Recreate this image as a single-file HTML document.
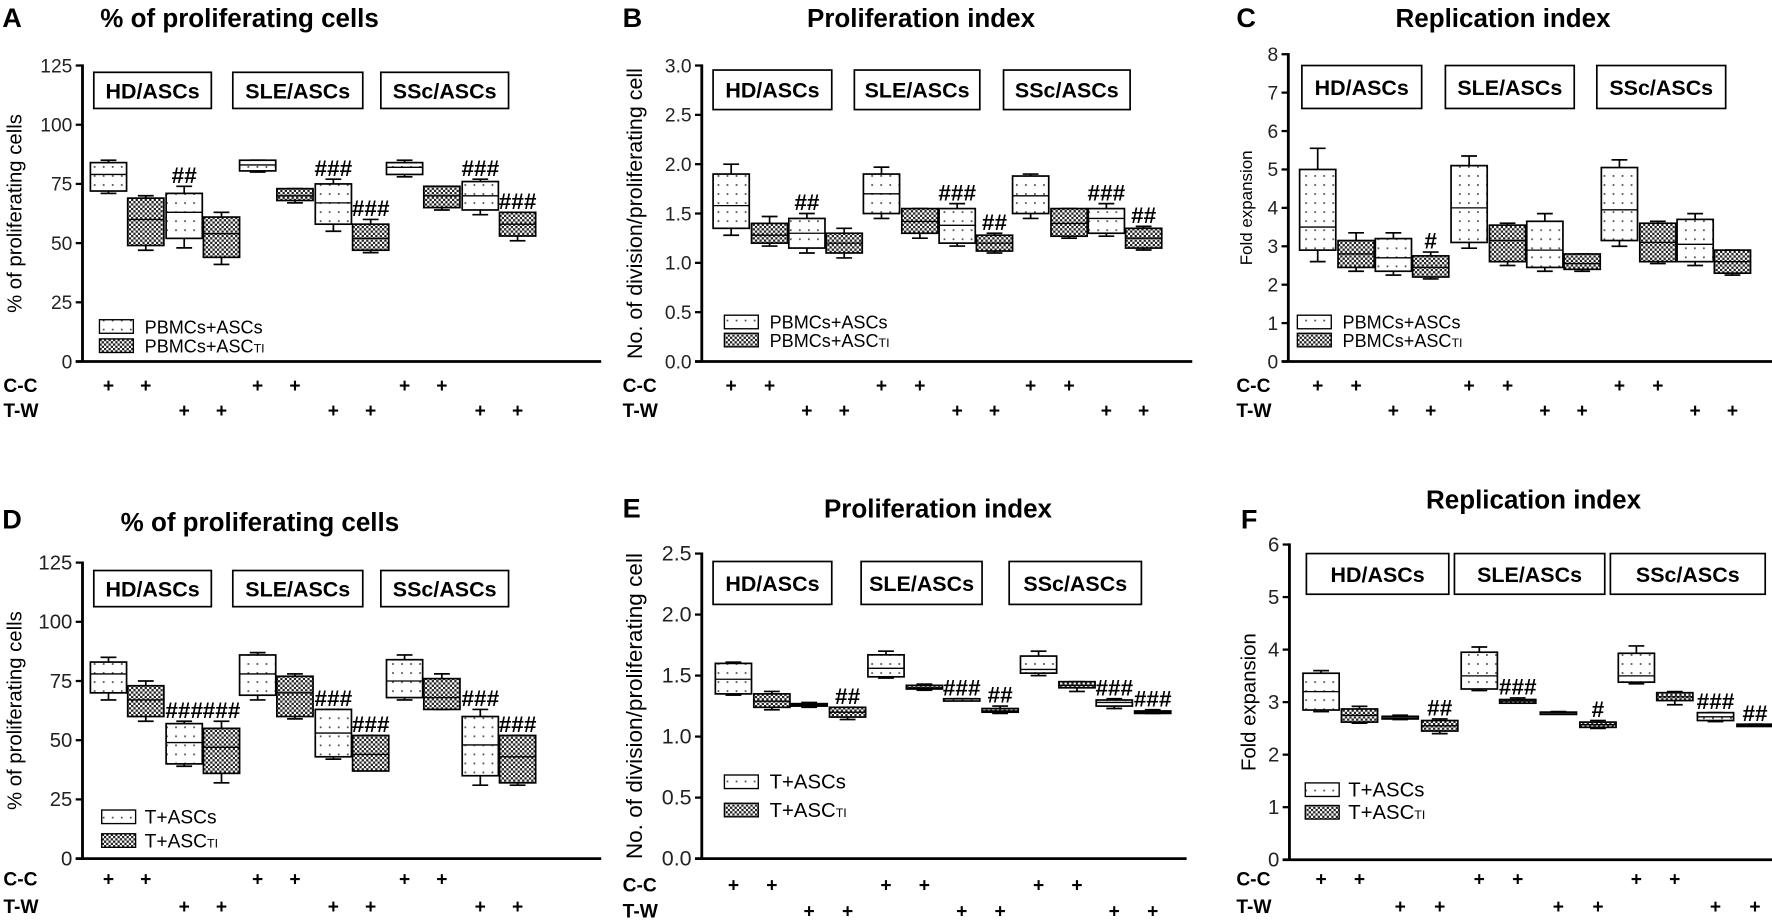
<!DOCTYPE html>
<html><head><meta charset="utf-8">
<style>
html,body{margin:0;padding:0;background:#fff;}
svg{display:block;font-family:"Liberation Sans",Arial,sans-serif;}
</style></head>
<body>
<svg id="fig" width="1772" height="923" viewBox="0 0 1568 817" preserveAspectRatio="none" xmlns="http://www.w3.org/2000/svg">
<defs>
<pattern id="dots" width="8" height="8" patternUnits="userSpaceOnUse">
<rect width="8" height="8" fill="#fff"/><rect x="3" y="3" width="1.5" height="1.5" fill="#444"/>
</pattern>
<pattern id="check" width="4" height="4" patternUnits="userSpaceOnUse">
<rect width="4" height="4" fill="#fff"/><rect width="2" height="2" fill="#222"/><rect x="2" y="2" width="2" height="2" fill="#222"/>
</pattern>
</defs>
</svg>
<script>
// ----- data (min, q1, median, q3, max for 12 boxes per panel) -----
const groups = ["HD/ASCs","SLE/ASCs","SSc/ASCs"];
const A_min=[71,47,48,41,80,67,55,46,78,64,62,51];
const A_q1 =[72,49,52,44,80.5,68,58,47,79,65,64,53];
const A_med=[79,60,63,54,83,70,67,52,82,70,70,58];
const A_q3 =[84,69,71,61,85,73,75,58,84,74,76,63];
const A_max=[85,70,74,63,85,73,77,60,85,74,77,63];
const A_sig=["","","##","","","","###","###","","","###","###"];
const B_min=[1.28,1.17,1.1,1.05,1.45,1.25,1.17,1.1,1.45,1.25,1.27,1.13];
const B_q1 =[1.35,1.2,1.15,1.1,1.5,1.3,1.2,1.12,1.5,1.27,1.3,1.15];
const B_med=[1.58,1.28,1.3,1.2,1.7,1.42,1.38,1.2,1.68,1.4,1.45,1.25];
const B_q3 =[1.9,1.4,1.45,1.3,1.9,1.55,1.55,1.28,1.88,1.55,1.55,1.35];
const B_max=[2.0,1.47,1.5,1.35,1.97,1.55,1.6,1.3,1.9,1.55,1.6,1.37];
const B_sig=["","","##","","","","###","##","","","###","##"];
const C_min=[2.6,2.35,2.25,2.15,2.95,2.5,2.35,2.35,3.0,2.55,2.5,2.25];
const C_q1 =[2.9,2.45,2.35,2.2,3.1,2.6,2.45,2.4,3.15,2.6,2.6,2.3];
const C_med=[3.5,2.8,2.7,2.45,4.0,3.15,2.9,2.55,3.95,3.1,3.05,2.6];
const C_q3 =[5.0,3.15,3.2,2.75,5.1,3.55,3.65,2.8,5.05,3.6,3.7,2.9];
const C_max=[5.55,3.35,3.35,2.85,5.35,3.6,3.85,2.8,5.25,3.65,3.85,2.9];
const C_sig=["","","","#","","","","","","","",""];
const D_min=[67,58,39,32,67,59,42,38,67,63,31,31];
const D_q1 =[70,60,40,36,69,60,43,37,68,63,35,32];
const D_med=[78,67,49,47,78,70,53,44,75,68,48,43];
const D_q3 =[83,73,57,55,86,77,63,52,84,76,60,52];
const D_max=[85,75,58,58,87,78,63,52,86,78,63,52];
const D_sig=["","","###","###","","","###","###","","","###","###"];
const E_min=[1.34,1.22,1.24,1.14,1.48,1.38,1.3,1.19,1.5,1.37,1.23,1.19];
const E_q1 =[1.35,1.24,1.25,1.16,1.49,1.39,1.3,1.2,1.52,1.4,1.25,1.19];
const E_med=[1.47,1.29,1.26,1.2,1.56,1.4,1.31,1.21,1.55,1.42,1.28,1.2];
const E_q3 =[1.6,1.35,1.27,1.24,1.67,1.42,1.31,1.23,1.66,1.45,1.3,1.21];
const E_max=[1.61,1.37,1.28,1.24,1.7,1.43,1.31,1.25,1.7,1.45,1.31,1.22];
const E_sig=["","","","##","","","###","##","","","###","###"];
const F_min=[2.82,2.6,2.67,2.4,3.22,2.98,2.8,2.5,3.35,2.95,2.63,2.55];
const F_q1 =[2.85,2.62,2.68,2.45,3.25,2.98,2.8,2.52,3.38,3.03,2.65,2.55];
const F_med=[3.2,2.75,2.7,2.55,3.5,3.02,2.8,2.57,3.5,3.1,2.72,2.56];
const F_q3 =[3.55,2.87,2.73,2.65,3.95,3.05,2.81,2.62,3.93,3.18,2.8,2.58];
const F_max=[3.6,2.92,2.75,2.68,4.05,3.08,2.82,2.65,4.07,3.2,2.8,2.58];
const F_sig=["","","","##","","###","","#","","","###","##"];

const svg=document.getElementById('fig');
const NS="http://www.w3.org/2000/svg";
function mk(tag,attrs,parent,text){
  const e=document.createElementNS(NS,tag);
  for(const k in attrs)e.setAttribute(k,attrs[k]);
  if(text!==undefined)e.textContent=text;
  (parent||svg).appendChild(e);return e;
}

function panel(p){
  const g=mk('g',{});
  
  
  const ys=v=>p.y0-(v/p.max)*(p.y0-p.top);
  const lt=mk('text',{x:p.lx,y:p.ly,'font-size':24,'font-weight':'bold'},g,p.id);
  
  
  const tt=mk('text',{x:p.tx,y:p.ty,'font-size':23,'font-weight':'bold','text-anchor':'middle'},g,p.title);
  
  
  mk('line',{x1:p.ax,y1:p.top-1,x2:p.ax,y2:p.y0,stroke:'#000','stroke-width':2.5},g);
  mk('line',{x1:p.ax-6,y1:p.y0,x2:p.xEnd,y2:p.y0,stroke:'#000','stroke-width':2.5},g);
  for(let v=0;v<=p.max+1e-9;v+=p.step){
    const y=ys(v);
    mk('line',{x1:p.ax-6,y1:y,x2:p.ax,y2:y,stroke:'#000','stroke-width':2},g);
    const t=mk('text',{x:p.ax-9,y:y+6,'font-size':p.tfs,'text-anchor':'end',fill:'#222'},g,p.fmt(v));
    
    
  }
  const yt=mk('text',{x:0,y:0,'font-size':p.yfs,'text-anchor':'middle',transform:`translate(${p.ytx},${(p.top+p.y0)/2}) rotate(-90)`},g,p.ytitle);
  
  
  for(let i=0;i<3;i++){
    const [x1,x2]=p.gb[i];
    const r=mk('rect',{x:x1,y:p.gy1,width:x2-x1,height:p.gy2-p.gy1,fill:'#fff',stroke:'#000','stroke-width':1.5},g);
    
    
    const t=mk('text',{x:(x1+x2)/2,y:(p.gy1+p.gy2)/2+7,'font-size':19,'font-weight':'bold','text-anchor':'middle'},g,groups[i]);
    
    
  }
  const bw=32;
  for(let i=0;i<12;i++){
    const cx=p.starts[Math.floor(i/4)]+p.offs[i%4];
    const fill=(i%2===0)?'url(#dots)':'url(#check)';
    const bg=mk('g',{},g);
    
    
    mk('line',{x1:cx,y1:ys(p.mn[i]),x2:cx,y2:ys(p.mx[i]),stroke:'#000','stroke-width':1.5},bg);
    mk('line',{x1:cx-7,y1:ys(p.mn[i]),x2:cx+7,y2:ys(p.mn[i]),stroke:'#000','stroke-width':1.5},bg);
    mk('line',{x1:cx-7,y1:ys(p.mx[i]),x2:cx+7,y2:ys(p.mx[i]),stroke:'#000','stroke-width':1.5},bg);
    const h=Math.max(2,ys(p.q1[i])-ys(p.q3[i]));
    mk('rect',{x:cx-bw/2,y:ys(p.q3[i]),width:bw,height:h,fill:fill,stroke:'#000','stroke-width':1.5},bg);
    mk('line',{x1:cx-bw/2,y1:ys(p.md[i]),x2:cx+bw/2,y2:ys(p.md[i]),stroke:'#000','stroke-width':1.2},bg);
    if(p.sig[i]){
      const s=mk('text',{x:cx,y:ys(p.mx[i])-3,'font-size':20,'font-weight':'bold','text-anchor':'middle'},g,p.sig[i]);
      
      
    }
    const pl=mk('text',{x:cx,y:(i%4<2)?p.ccY:p.twY,'font-size':17,'font-weight':'bold','text-anchor':'middle'},g,'+');
    
    
  }
  const cc=mk('text',{x:p.clx,y:p.ccY,'font-size':17,'font-weight':'bold'},g,'C-C');
  
  
  const tw=mk('text',{x:p.clx,y:p.twY,'font-size':17,'font-weight':'bold'},g,'T-W');
  
  
  for(let k=0;k<2;k++){
    const le=mk('g',{},g);
    
    
    const y=p.legY[k];
    mk('rect',{x:p.legX,y:y-6,width:30,height:12,fill:k?'url(#check)':'url(#dots)',stroke:'#000','stroke-width':1.2},le);
    const t=mk('text',{x:p.legTx,y:y+6,'font-size':p.lfs||16},le,p.leg[k]);
    if(k===1){mk('tspan',{'font-size':11},t,'TI');}
  }
}
const fmt0=v=>String(Math.round(v));
const fmt1=v=>v.toFixed(1);
panel({id:'A',title:'% of proliferating cells',lx:2,ly:24,tx:212,ty:24,ax:73,y0:320,top:58,max:125,step:25,fmt:fmt0,tfs:17,yfs:18,ytx:19,ytitle:'% of proliferating cells',
 gb:[[83,187],[206,321],[337,450]],gy1:64,gy2:96,starts:[96,228,358],offs:[0,33,67,100],xEnd:532,
 mn:A_min,q1:A_q1,md:A_med,q3:A_q3,mx:A_max,sig:A_sig,ccY:347,twY:369,clx:3,legX:88,legTx:128,legY:[289,306],leg:['PBMCs+ASCs','PBMCs+ASC']});
panel({id:'B',title:'Proliferation index',lx:551,ly:24,tx:815,ty:24,ax:621,y0:320,top:58,max:3,step:0.5,fmt:fmt1,tfs:17,yfs:19,ytx:568,ytitle:'No. of division/proliferating cell',
 gb:[[631,736],[756,867],[888,1000]],gy1:62,gy2:97,starts:[647,780,912],offs:[0,34,67,100],xEnd:1055,
 mn:B_min,q1:B_q1,md:B_med,q3:B_q3,mx:B_max,sig:B_sig,ccY:347,twY:369,clx:551,legX:641,legTx:681,legY:[285,301],leg:['PBMCs+ASCs','PBMCs+ASC']});
panel({id:'C',title:'Replication index',lx:1094,ly:24,tx:1330,ty:24,ax:1140,y0:320,top:48,max:8,step:1,fmt:fmt0,tfs:17,yfs:15,ytx:1108,ytitle:'Fold expansion',
 gb:[[1152,1258],[1279,1393],[1413,1527]],gy1:58,gy2:96,starts:[1166,1300,1433],offs:[0,34,67,100],xEnd:1568,
 mn:C_min,q1:C_q1,md:C_med,q3:C_q3,mx:C_max,sig:C_sig,ccY:347,twY:369,clx:1094,legX:1148,legTx:1188,legY:[285,301],leg:['PBMCs+ASCs','PBMCs+ASC']});
panel({id:'D',title:'% of proliferating cells',lx:2,ly:468,tx:230,ty:470,ax:73,y0:760,top:498,max:125,step:25,fmt:fmt0,tfs:18,yfs:18,ytx:19,ytitle:'% of proliferating cells',
 gb:[[83,187],[206,321],[337,450]],gy1:505,gy2:537,starts:[96,228,358],offs:[0,33,67,100],xEnd:532,
 mn:D_min,q1:D_q1,md:D_med,q3:D_q3,mx:D_max,sig:D_sig,ccY:784,twY:808,clx:3,legX:90,legTx:128,legY:[723,744],leg:['T+ASCs','T+ASC'],lfs:17});
panel({id:'E',title:'Proliferation index',lx:551,ly:458,tx:830,ty:458,ax:621,y0:760,top:490,max:2.5,step:0.5,fmt:fmt1,tfs:19,yfs:20,ytx:568,ytitle:'No. of division/proliferating cell',
 gb:[[631,736],[762,869],[893,1010]],gy1:497,gy2:535,starts:[649,784,919],offs:[0,34,67,101],xEnd:1050,
 mn:E_min,q1:E_q1,md:E_med,q3:E_q3,mx:E_max,sig:E_sig,ccY:789,twY:812,clx:551,legX:641,legTx:681,legY:[692,717],leg:['T+ASCs','T+ASC'],lfs:18});
panel({id:'F',title:'Replication index',lx:1098,ly:468,tx:1357,ty:450,ax:1141,y0:761,top:482,max:6,step:1,fmt:fmt0,tfs:18,yfs:18,ytx:1111,ytitle:'Fold expansion',
 gb:[[1156,1282],[1287,1420],[1425,1562]],gy1:490,gy2:526,starts:[1169,1309,1448],offs:[0,34,70,105],xEnd:1568,
 mn:F_min,q1:F_q1,md:F_med,q3:F_q3,mx:F_max,sig:F_sig,ccY:784,twY:808,clx:1094,legX:1155,legTx:1193,legY:[699,719],leg:['T+ASCs','T+ASC'],lfs:18});
</script>
</body></html>
